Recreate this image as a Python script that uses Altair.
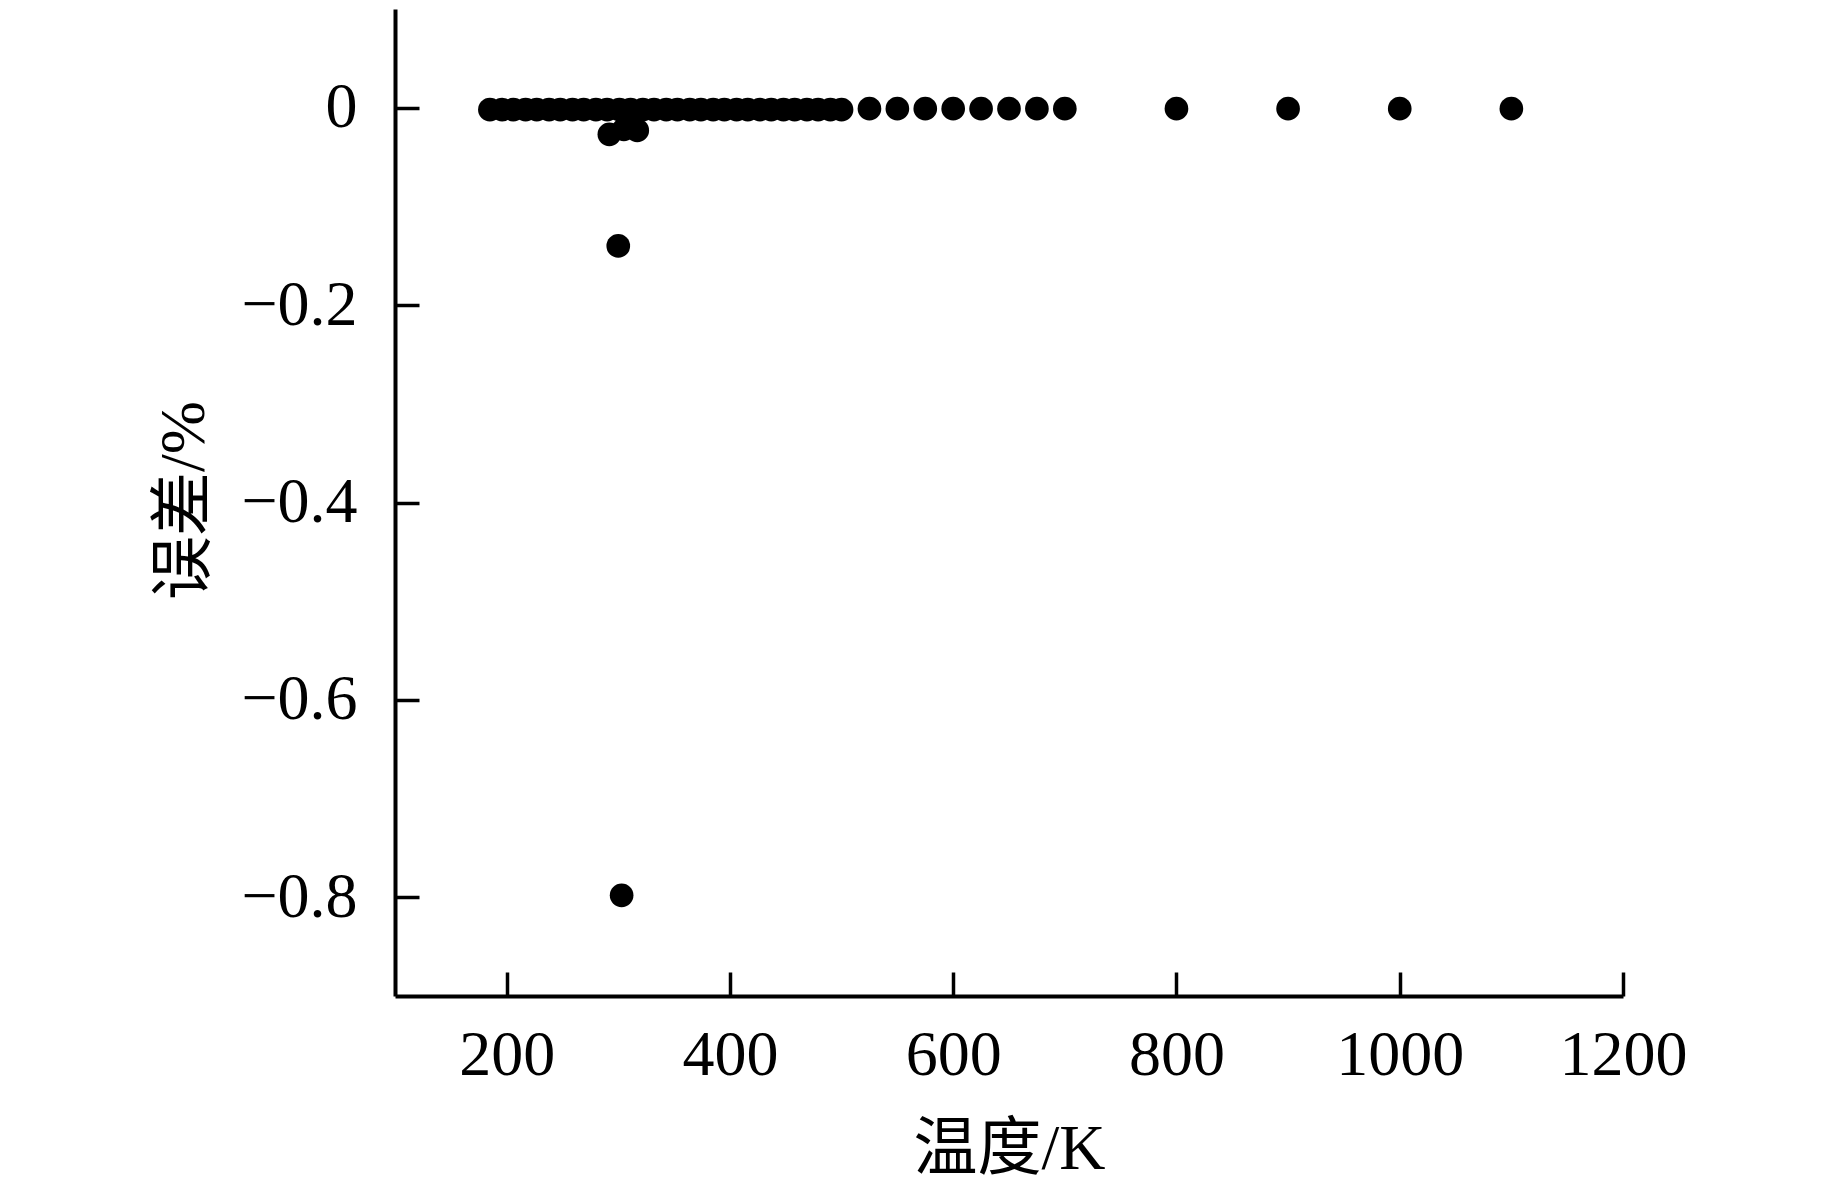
import altair as alt
import pandas as pd

# dense row of points near zero (temperature in K, error in %)
dense_T = [185, 196, 206, 217, 227, 238, 248, 259, 269, 280, 290, 301, 311, 322,
           332, 343, 353, 364, 374, 385, 395, 406, 416, 427, 437, 448, 458, 469,
           479, 490, 500]
dense_E = [-0.002] * len(dense_T)

# sparser points at higher temperatures
sparse_T = [525, 550, 575, 600, 625, 650, 675, 700, 800, 900, 1000, 1100]
sparse_E = [-0.001] * len(sparse_T)

# outliers near room temperature
out_T = [292, 305, 317, 300, 303]
out_E = [-0.027, -0.022, -0.023, -0.14, -0.798]

x_ticks = [200, 400, 600, 800, 1000, 1200]
y_ticks = [0, -0.2, -0.4, -0.6, -0.8]

df = pd.DataFrame({
    "T": dense_T + sparse_T + out_T,
    "E": dense_E + sparse_E + out_E,
})

FONT = "Liberation Serif, Times New Roman, Noto Sans CJK SC"
FS = 64
H = 987

chart = alt.Chart(df).mark_circle(size=560, color="black", opacity=1).encode(
    x=alt.X("T:Q",
            scale=alt.Scale(domain=[100, 1200], nice=False, zero=False),
            axis=alt.Axis(values=x_ticks, title="温度/K", format="d",
                          ticks=False, labelPadding=27,
                          grid=True, gridDash=[24, 4000], gridDashOffset=4024 - (H - 24),
                          gridColor="black",
                          gridOpacity=1, gridWidth=3.5, gridCap="butt",
                          titleX=614, titleY=153, titleBaseline="middle",
                          titleAlign="center", labelFlush=False)),
    y=alt.Y("E:Q",
            scale=alt.Scale(domain=[-0.9, 0.1], nice=False, zero=False),
            axis=alt.Axis(values=y_ticks, title="误差/%",
                          labelExpr="datum.value == 0 ? '0' : format(datum.value, '.1f')",
                          ticks=False, labelPadding=38,
                          grid=True, gridDash=[24, 4000], gridColor="black",
                          gridOpacity=1, gridWidth=3.5, gridCap="butt",
                          titleX=-211, titleY=491, titleBaseline="middle",
                          titleAlign="center", titleAngle=270, labelFlush=False)),
).properties(
    width=1228,
    height=H,
    autosize=alt.AutoSizeParams(type="none"),
    padding={"left": 387, "top": 1, "right": 200, "bottom": 200},
).configure_view(
    stroke=None
).configure_axis(
    domainColor="black",
    domainWidth=4,
    labelFont=FONT,
    labelFontSize=FS,
    labelColor="black",
    titleFont=FONT,
    titleFontSize=FS,
    titleFontWeight="normal",
    titleColor="black",
)

chart.save("out.html", embed_options={"renderer": "svg", "actions": False})
